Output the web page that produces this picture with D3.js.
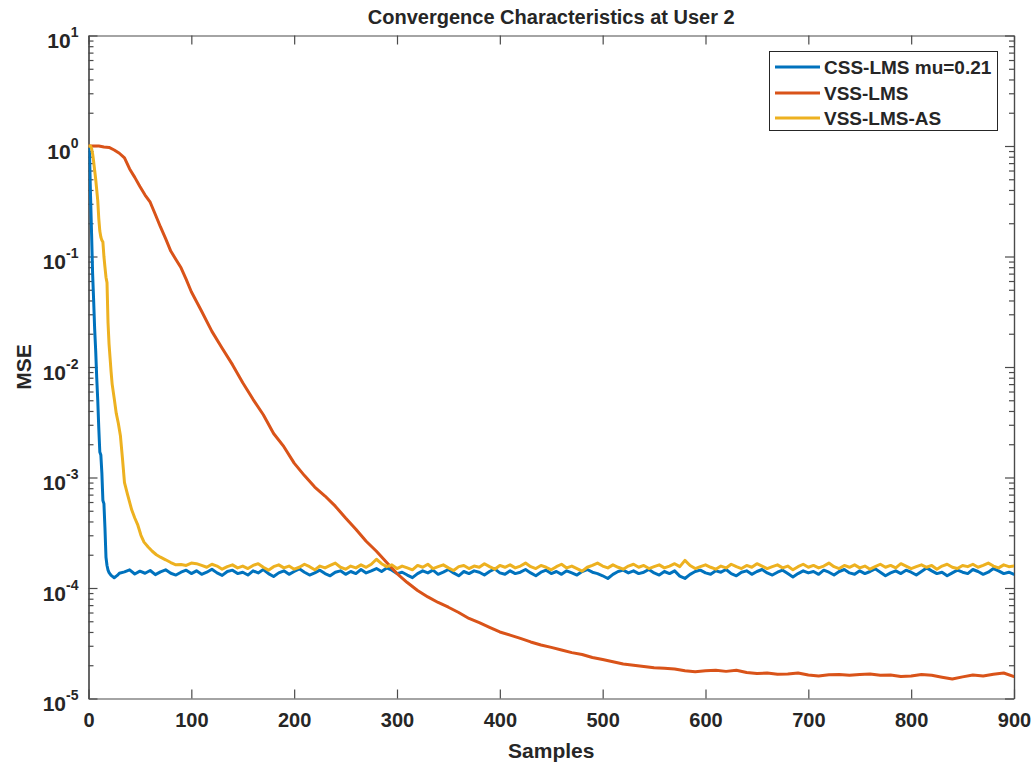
<!DOCTYPE html>
<html>
<head>
<meta charset="utf-8">
<script src="https://cdn.jsdelivr.net/npm/d3@7"></script>
<style>
  html, body { margin: 0; padding: 0; background: #fff; }
  svg { display: block; }
  text { font-family: "Liberation Sans", Arial, Helvetica, sans-serif; font-weight: bold; fill: #262626; }
</style>
</head>
<body>
<svg id="chart" width="1034" height="769"></svg>
<script>
// ---------------- DATA ----------------
const chartTitle = "Convergence Characteristics at User 2";
const xLabel = "Samples";
const yLabel = "MSE";
const seriesNames = ["CSS-LMS mu=0.21", "VSS-LMS", "VSS-LMS-AS"];
const xTicks = [0, 100, 200, 300, 400, 500, 600, 700, 800, 900];
const yTicks = [1e-5, 1e-4, 1e-3, 1e-2, 1e-1, 1e0, 1e1];
const yTickExponents = ["-5", "-4", "-3", "-2", "-1", "0", "1"];

// CSS-LMS mu=0.21 (blue)
const cssSamples = [0,1,2,3,4,5,6,7,8,9,10,11,12,13,14,15,16,17,18,19,20,22,25,28,30,
  35,40,45,50,55,60,65,70,75,80,85,90,95,100,105,110,115,120,125,130,135,140,145,150,155,160,165,170,175,180,
  185,190,195,200,205,210,215,220,225,230,235,240,245,250,255,260,265,270,275,280,285,290,295,300,305,310,315,320,325,330,
  335,340,345,350,355,360,365,370,375,380,385,390,395,400,405,410,415,420,425,430,435,440,445,450,455,460,465,470,475,480,
  485,490,495,500,505,510,515,520,525,530,535,540,545,550,555,560,565,570,575,580,585,590,595,600,605,610,615,620,625,630,
  635,640,645,650,655,660,665,670,675,680,685,690,695,700,705,710,715,720,725,730,735,740,745,750,755,760,765,770,775,780,
  785,790,795,800,805,810,815,820,825,830,835,840,845,850,855,860,865,870,875,880,885,890,895,900];
const cssMse = [1.0,0.85,0.35,0.16,0.07,0.04,0.022,0.014,0.008,0.005,0.0028,0.0017,0.0016,0.0011,6.2e-4,5.8e-4,3.5e-4,1.9e-4,1.6e-4,1.45e-4,1.38e-4,1.30e-4,1.24e-4,1.30e-4,1.36e-4,
  1.40e-4,1.46e-4,1.34e-4,1.42e-4,1.36e-4,1.44e-4,1.32e-4,1.40e-4,1.46e-4,1.36e-4,
  1.31e-4,1.39e-4,1.45e-4,1.35e-4,1.43e-4,1.33e-4,1.39e-4,1.48e-4,1.37e-4,1.30e-4,
  1.41e-4,1.45e-4,1.35e-4,1.39e-4,1.31e-4,1.43e-4,1.37e-4,1.47e-4,1.35e-4,1.27e-4,
  1.37e-4,1.43e-4,1.33e-4,1.41e-4,1.49e-4,1.39e-4,1.31e-4,1.37e-4,1.45e-4,1.35e-4,
  1.29e-4,1.39e-4,1.43e-4,1.33e-4,1.41e-4,1.35e-4,1.47e-4,1.37e-4,1.43e-4,1.50e-4,
  1.41e-4,1.52e-4,1.45e-4,1.35e-4,1.39e-4,1.31e-4,1.24e-4,1.35e-4,1.43e-4,1.37e-4,
  1.45e-4,1.33e-4,1.39e-4,1.47e-4,1.37e-4,1.29e-4,1.41e-4,1.35e-4,1.43e-4,1.39e-4,
  1.31e-4,1.41e-4,1.49e-4,1.37e-4,1.33e-4,1.43e-4,1.35e-4,1.39e-4,1.47e-4,1.37e-4,
  1.29e-4,1.39e-4,1.45e-4,1.35e-4,1.41e-4,1.33e-4,1.43e-4,1.37e-4,1.31e-4,1.41e-4,
  1.47e-4,1.39e-4,1.35e-4,1.29e-4,1.22e-4,1.33e-4,1.41e-4,1.45e-4,1.37e-4,1.43e-4,
  1.35e-4,1.39e-4,1.47e-4,1.37e-4,1.31e-4,1.41e-4,1.35e-4,1.43e-4,1.28e-4,1.22e-4,
  1.33e-4,1.41e-4,1.45e-4,1.37e-4,1.33e-4,1.43e-4,1.39e-4,1.47e-4,1.35e-4,1.29e-4,
  1.39e-4,1.43e-4,1.33e-4,1.41e-4,1.47e-4,1.37e-4,1.31e-4,1.39e-4,1.45e-4,1.35e-4,
  1.26e-4,1.35e-4,1.43e-4,1.37e-4,1.41e-4,1.33e-4,1.45e-4,1.39e-4,1.31e-4,1.41e-4,
  1.47e-4,1.37e-4,1.33e-4,1.43e-4,1.35e-4,1.41e-4,1.49e-4,1.39e-4,1.29e-4,1.37e-4,
  1.43e-4,1.35e-4,1.45e-4,1.39e-4,1.31e-4,1.41e-4,1.52e-4,1.43e-4,1.35e-4,1.39e-4,
  1.29e-4,1.37e-4,1.45e-4,1.39e-4,1.35e-4,1.47e-4,1.41e-4,1.33e-4,1.39e-4,1.50e-4,
  1.43e-4,1.35e-4,1.39e-4,1.33e-4];

// VSS-LMS (red)
const vssSamples = [0,10,15,20,25,30,35,40,45,50,55,60,65,70,75,80,85,90,95,100,110,120,130,140,150,160,170,180,190,200,
  210,220,230,240,250,260,270,280,290,300,310,320,330,340,350,360,370,380,390,400,410,420,430,440,450,460,470,480,490,500,
  510,520,530,540,550,560,570,580,590,600,610,620,630,640,650,660,670,680,690,700,710,720,730,740,750,760,770,780,790,800,
  810,820,830,840,850,860,870,880,890,900];
const vssMse = [1.0,1.0,0.98,0.97,0.92,0.86,0.78,0.62,0.52,0.43,0.36,0.31,0.24,0.185,0.145,0.112,0.094,0.079,0.062,0.048,
  0.032,0.021,0.0148,0.0105,0.0072,0.0051,0.0037,0.0025,0.0019,0.00135,
  1.04e-3,8.2e-4,6.8e-4,5.5e-4,4.3e-4,3.4e-4,2.65e-4,2.15e-4,1.7e-4,1.35e-4,
  1.12e-4,9.5e-5,8.3e-5,7.4e-5,6.7e-5,6.0e-5,5.3e-5,4.85e-5,4.4e-5,4.0e-5,
  3.75e-5,3.5e-5,3.25e-5,3.05e-5,2.9e-5,2.75e-5,2.6e-5,2.5e-5,2.35e-5,2.25e-5,
  2.15e-5,2.05e-5,2.0e-5,1.95e-5,1.9e-5,1.88e-5,1.85e-5,1.78e-5,1.75e-5,1.78e-5,
  1.8e-5,1.76e-5,1.8e-5,1.72e-5,1.68e-5,1.7e-5,1.66e-5,1.67e-5,1.7e-5,1.63e-5,
  1.6e-5,1.64e-5,1.65e-5,1.62e-5,1.65e-5,1.67e-5,1.62e-5,1.63e-5,1.58e-5,1.6e-5,
  1.65e-5,1.62e-5,1.56e-5,1.5e-5,1.57e-5,1.63e-5,1.6e-5,1.66e-5,1.7e-5,1.58e-5];

// VSS-LMS-AS (yellow)
const asSamples = [0,2,3,4,5,6,7,8,9,10,11,12,13,14,15,16,17,18,19,20,21,22,23,25,27,29,31,33,35,38,42,45,48,51,54,58,62,66,70,75,80,85,90,95,100,
  105,110,115,120,125,130,135,140,145,150,155,160,165,170,175,180,185,190,195,200,205,210,215,220,225,230,235,240,245,250,
  255,260,265,270,275,280,285,290,295,300,305,310,315,320,325,330,335,340,345,350,355,360,365,370,375,380,385,390,395,400,
  405,410,415,420,425,430,435,440,445,450,455,460,465,470,475,480,485,490,495,500,505,510,515,520,525,530,535,540,545,550,
  555,560,565,570,575,580,585,590,595,600,605,610,615,620,625,630,635,640,645,650,655,660,665,670,675,680,685,690,695,700,
  705,710,715,720,725,730,735,740,745,750,755,760,765,770,775,780,785,790,795,800,805,810,815,820,825,830,835,840,845,850,
  855,860,865,870,875,880,885,890,895,900];
const asMse = [1.0,1.0,0.95,0.85,0.72,0.6,0.5,0.4,0.32,0.22,0.17,0.15,0.14,0.135,0.1,0.08,0.065,0.058,0.025,0.016,0.012,0.009,0.007,0.0052,0.0038,0.0031,0.0024,0.0015,9e-4,7e-4,5.1e-4,4.3e-4,3.7e-4,3.0e-4,2.6e-4,2.35e-4,2.15e-4,2.0e-4,1.9e-4,1.8e-4,1.7e-4,1.62e-4,1.63e-4,1.6e-4,1.68e-4,
  1.66e-4,1.60e-4,1.54e-4,1.64e-4,1.58e-4,1.48e-4,1.56e-4,1.62e-4,1.52e-4,1.58e-4,
  1.50e-4,1.60e-4,1.66e-4,1.54e-4,1.45e-4,1.56e-4,1.62e-4,1.52e-4,1.58e-4,1.48e-4,
  1.54e-4,1.64e-4,1.56e-4,1.46e-4,1.58e-4,1.52e-4,1.60e-4,1.68e-4,1.54e-4,1.48e-4,
  1.58e-4,1.52e-4,1.62e-4,1.54e-4,1.64e-4,1.82e-4,1.66e-4,1.56e-4,1.62e-4,1.50e-4,
  1.58e-4,1.52e-4,1.46e-4,1.60e-4,1.54e-4,1.64e-4,1.50e-4,1.56e-4,1.62e-4,1.52e-4,
  1.44e-4,1.56e-4,1.60e-4,1.50e-4,1.58e-4,1.54e-4,1.66e-4,1.56e-4,1.48e-4,1.60e-4,
  1.54e-4,1.62e-4,1.52e-4,1.58e-4,1.68e-4,1.56e-4,1.50e-4,1.60e-4,1.54e-4,1.46e-4,
  1.56e-4,1.64e-4,1.52e-4,1.58e-4,1.50e-4,1.42e-4,1.54e-4,1.60e-4,1.68e-4,1.58e-4,
  1.52e-4,1.62e-4,1.54e-4,1.48e-4,1.58e-4,1.64e-4,1.54e-4,1.60e-4,1.50e-4,1.56e-4,
  1.62e-4,1.52e-4,1.58e-4,1.66e-4,1.56e-4,1.78e-4,1.60e-4,1.50e-4,1.56e-4,1.62e-4,
  1.54e-4,1.48e-4,1.58e-4,1.52e-4,1.64e-4,1.56e-4,1.50e-4,1.60e-4,1.54e-4,1.66e-4,
  1.58e-4,1.50e-4,1.56e-4,1.62e-4,1.52e-4,1.58e-4,1.46e-4,1.56e-4,1.64e-4,1.54e-4,
  1.60e-4,1.52e-4,1.58e-4,1.68e-4,1.56e-4,1.50e-4,1.60e-4,1.54e-4,1.62e-4,1.52e-4,
  1.58e-4,1.48e-4,1.56e-4,1.64e-4,1.54e-4,1.60e-4,1.52e-4,1.66e-4,1.58e-4,1.50e-4,
  1.56e-4,1.62e-4,1.54e-4,1.60e-4,1.48e-4,1.58e-4,1.64e-4,1.54e-4,1.50e-4,1.60e-4,
  1.56e-4,1.64e-4,1.54e-4,1.60e-4,1.68e-4,1.58e-4,1.52e-4,1.62e-4,1.56e-4,1.58e-4];

const seriesColors = ["#0072BD", "#D95319", "#EDB120"];

// ---------------- LAYOUT ----------------
const svg = d3.select("#chart");
const plotLeft = 88.5, plotRight = 1014, plotTop = 35.5, plotBottom = 698.5;
const axisColor = "#4a4a4a";

const x = d3.scaleLinear().domain([0, 900]).range([plotLeft, plotRight]);
const y = d3.scaleLog().domain([1e-5, 10]).range([plotBottom, plotTop]);

const minorTicks = [];
for (let e = -5; e < 1; e++) {
  for (let m = 2; m <= 9; m++) minorTicks.push(m * Math.pow(10, e));
}

svg.append("defs").append("clipPath").attr("id", "clip")
  .append("rect").attr("x", plotLeft).attr("y", plotTop).attr("width", plotRight - plotLeft).attr("height", plotBottom - plotTop);

svg.append("rect").attr("x", plotLeft).attr("y", plotTop).attr("width", plotRight - plotLeft).attr("height", plotBottom - plotTop).attr("fill", "#fff");

function styleAxis(g) {
  g.selectAll("path.domain").attr("stroke", axisColor).attr("stroke-width", 1.2);
  g.selectAll(".tick line").attr("stroke", axisColor).attr("stroke-width", 1.2);
}

const fontFam = '"Liberation Sans", Arial, sans-serif';

// bottom axis
const gx = svg.append("g").attr("transform", `translate(0,${plotBottom})`)
  .call(d3.axisBottom(x).tickValues(xTicks).tickSize(-9).tickSizeOuter(0).tickPadding(14).tickFormat(d3.format("d")));
gx.selectAll("text").attr("font-size", 20).attr("font-family", fontFam)
  .attr("font-weight", "bold").attr("fill", "#262626");
styleAxis(gx);

// top axis
const gxt = svg.append("g").attr("transform", `translate(0,${plotTop})`)
  .call(d3.axisTop(x).tickValues(xTicks).tickSize(-9).tickSizeOuter(0).tickFormat(""));
styleAxis(gxt);

// left axis (major)
const gy = svg.append("g").attr("transform", `translate(${plotLeft},0)`)
  .call(d3.axisLeft(y).tickValues(yTicks).tickSize(-9).tickSizeOuter(0).tickPadding(10).tickFormat(""));
styleAxis(gy);
gy.selectAll(".tick").each(function(d) {
  const t = d3.select(this).select("text");
  t.attr("dy", null).attr("y", 12).attr("x", -10)
    .attr("font-size", 21).attr("font-family", fontFam)
    .attr("font-weight", "bold").attr("fill", "#262626").attr("text-anchor", "end");
  t.text(null);
  t.append("tspan").text("10");
  t.append("tspan").attr("dy", -11).attr("font-size", 14).text(yTickExponents[yTicks.indexOf(d)]);
});
const gym = svg.append("g").attr("transform", `translate(${plotLeft},0)`)
  .call(d3.axisLeft(y).tickValues(minorTicks).tickSize(-5).tickSizeOuter(0).tickFormat(""));
styleAxis(gym);

// right axis
const gyr = svg.append("g").attr("transform", `translate(${plotRight},0)`)
  .call(d3.axisRight(y).tickValues(yTicks).tickSize(-9).tickSizeOuter(0).tickFormat(""));
styleAxis(gyr);
const gyrm = svg.append("g").attr("transform", `translate(${plotRight},0)`)
  .call(d3.axisRight(y).tickValues(minorTicks).tickSize(-5).tickSizeOuter(0).tickFormat(""));
styleAxis(gyrm);

// lines
const series = [
  { name: seriesNames[0], xs: cssSamples, ys: cssMse, color: seriesColors[0] },
  { name: seriesNames[1], xs: vssSamples, ys: vssMse, color: seriesColors[1] },
  { name: seriesNames[2], xs: asSamples, ys: asMse, color: seriesColors[2] }
];
const line = d3.line().x(d => x(d[0])).y(d => y(d[1]));
const gLines = svg.append("g").attr("clip-path", "url(#clip)");
series.forEach(s => {
  const pts = s.xs.map((v, i) => [v, s.ys[i]]);
  gLines.append("path").datum(pts).attr("d", line)
    .attr("fill", "none").attr("stroke", s.color).attr("stroke-width", 3)
    .attr("stroke-linejoin", "round").attr("stroke-linecap", "round");
});

// title & axis labels
svg.append("text").attr("x", (plotLeft + plotRight) / 2).attr("y", 24).attr("text-anchor", "middle")
  .attr("font-size", 20).text(chartTitle);
svg.append("text").attr("x", (plotLeft + plotRight) / 2).attr("y", 758).attr("text-anchor", "middle")
  .attr("font-size", 21).text(xLabel);
svg.append("text").attr("transform", `translate(31,${(plotTop + plotBottom) / 2}) rotate(-90)`).attr("text-anchor", "middle")
  .attr("font-size", 21).text(yLabel);

// legend
const lg = svg.append("g");
lg.append("rect").attr("x", 769.5).attr("y", 51.5).attr("width", 228).attr("height", 79)
  .attr("fill", "#fff").attr("stroke", "#262626").attr("stroke-width", 1);
const legendRowY = [67, 93, 118];
series.forEach((s, i) => {
  lg.append("line").attr("x1", 775).attr("x2", 820).attr("y1", legendRowY[i]).attr("y2", legendRowY[i])
    .attr("stroke", s.color).attr("stroke-width", 3);
  lg.append("text").attr("x", 824).attr("y", legendRowY[i] + 7).attr("font-size", 19).text(s.name);
});
</script>
</body>
</html>
